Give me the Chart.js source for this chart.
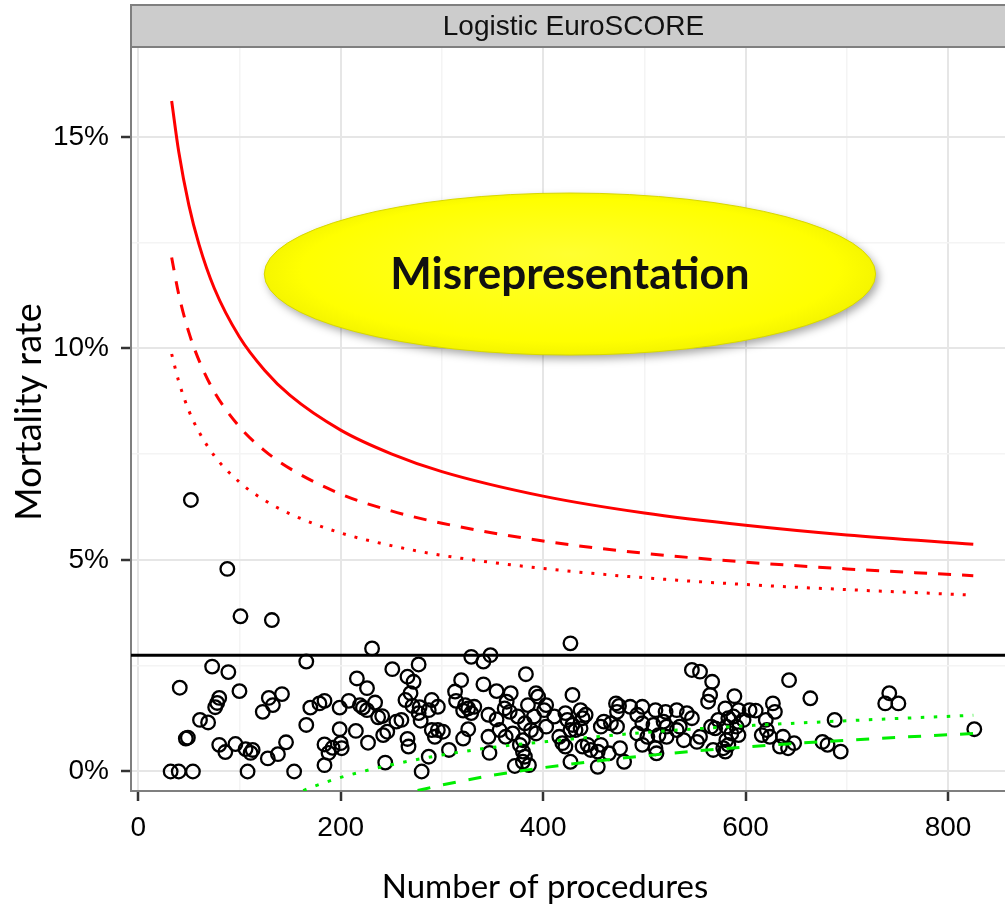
<!DOCTYPE html>
<html>
<head>
<meta charset="utf-8">
<script src="https://cdn.jsdelivr.net/npm/chart.js@4.4.1/dist/chart.umd.min.js"></script>
<style>
html, body { margin: 0; padding: 0; background: #fff; overflow: hidden; }
canvas { display: block; }
</style>
</head>
<body>
<canvas id="canvas" width="1025" height="912" style="width:1025px;height:912px"></canvas>
<script>
// hospitals: number of procedures and observed mortality (%)
var hospitalN = [52,88,101,132,73,89,41,100,80,78,76,129,142,133,123,61,69,47,49,80,86,96,106,113,111,128,138,146,32,40,54,108,
  231,166,251,277,216,226,266,272,269,264,170,179,184,199,208,219,222,234,226,237,241,255,260,246,242,166,199,215,227,184,192,200,201,188,266,267,271,278,277,279,184,244,154,280,
  329,341,348,383,319,313,314,341,354,368,364,393,395,403,401,296,290,287,323,326,332,329,321,346,354,362,367,375,385,382,391,388,290,296,301,293,326,321,346,357,363,370,380,393,307,347,377,380,382,386,372,380,403,416,419,422,411,422,287,427,
  547,555,429,437,442,439,424,429,432,437,427,472,475,473,486,498,493,511,521,532,542,547,460,467,473,457,498,509,519,522,532,535,493,503,514,522,539,552,555,439,444,447,454,465,457,476,498,511,512,427,454,480,
  643,664,567,565,563,589,580,593,588,583,573,566,570,598,591,581,586,593,581,583,578,580,568,604,610,627,629,620,621,616,624,637,634,642,648,676,681,694,688,742,738,751,826];
var hospitalRate = [6.42,4.79,3.67,3.58,2.48,2.35,1.98,1.90,1.74,1.62,1.52,1.74,1.83,1.57,1.41,1.22,1.16,0.78,0.80,0.63,0.46,0.65,0.53,0.51,0.44,0.31,0.41,0.69,0,0,0,0,
  2.91,2.60,2.42,2.53,2.20,1.97,2.24,2.12,1.85,1.69,1.51,1.61,1.67,1.51,1.67,1.57,1.51,1.63,1.45,1.28,1.31,1.18,1.22,0.94,0.86,1.10,1.00,0.96,0.68,0.64,0.56,0.67,0.55,0.44,0.77,0.59,1.55,1.52,1.38,1.20,0.15,0.21,0,0,
  2.71,2.60,2.75,2.30,2.16,1.89,1.67,2.06,1.90,1.85,1.65,1.85,1.77,1.57,1.45,1.53,1.69,1.45,1.57,1.49,1.53,1.38,1.44,1.34,1.23,1.49,1.41,1.30,1.57,1.14,1.30,0.98,0.98,0.98,0.94,0.82,1.00,0.78,0.82,0.98,0.82,0.90,0.74,0.90,0.51,0.44,0.63,0.47,0.35,0.15,0.13,0.23,1.06,0.82,0.67,0.59,1.30,1.38,0.35,3.03,
  2.40,2.36,1.81,1.45,1.34,1.26,1.22,1.10,0.98,1.02,0.98,1.61,1.55,1.41,1.53,1.53,1.34,1.45,1.41,1.45,1.38,1.26,1.18,1.14,1.06,1.06,1.14,1.10,1.18,1.06,0.98,1.06,0.90,0.82,0.86,0.82,0.74,0.70,0.82,0.59,0.63,0.51,0.47,0.43,0.63,0.55,0.63,0.55,0.43,0.23,0.11,0.23,
  2.16,1.73,2.12,1.81,1.65,1.78,1.49,1.45,1.30,1.26,1.22,1.06,1.02,1.22,1.06,1.06,0.90,0.86,0.74,0.63,0.55,0.47,0.51,1.45,1.44,1.61,1.41,1.22,0.98,0.86,0.82,0.82,0.59,0.55,0.67,0.70,0.63,0.47,1.22,1.85,1.61,1.61,1.00];

// overall rate and control limits
var overallRate = 2.75;
var limitN     = [33, 40, 50, 60, 75, 100, 125, 150, 200, 250, 300, 400, 500, 600, 700, 825];
var upperOuter = [15.85,14.65,13.39,12.46,11.43,10.27,9.48,8.89,8.07,7.51,7.09,6.51,6.11,5.82,5.59,5.37];
var upperMid   = [12.15,11.28,10.38,9.72,8.98,8.15,7.58,7.16,6.56,6.16,5.87,5.45,5.16,4.95,4.79,4.63];
var upperInner = [9.87,9.22,8.53,8.03,7.47,6.84,6.41,6.09,5.64,5.34,5.11,4.80,4.58,4.42,4.30,4.17];
var lowerInnerN = [163, 175, 200, 250, 300, 350, 400, 500, 600, 700, 825];
var lowerInner  = [-0.45,-0.34,-0.14,0.16,0.39,0.57,0.70,0.92,1.08,1.20,1.33];
var lowerMidN   = [276, 300, 350, 400, 500, 600, 700, 825];
var lowerMid    = [-0.45,-0.32,-0.09,0.09,0.37,0.58,0.74,0.90];

var xTicks = [0, 100, 200, 300, 400, 500, 600, 700, 800];
var yTicks = [0, 2.5, 5, 7.5, 10, 12.5, 15];
var panelTitle = 'Logistic EuroSCORE';
var xTitle = 'Number of procedures';
var yTitle = 'Mortality rate';
var bubbleText = 'Misrepresentation';

function pts(xs, ys) {
  return xs.map(function(v, i) { return {x: v, y: ys[i]}; });
}

var xMin = -7.17, xMax = 867.1;

var overlay = {
  id: 'overlay',
  beforeDraw: function(chart) {
    var ctx = chart.ctx, a = chart.chartArea;
    ctx.save();
    ctx.fillStyle = '#ffffff';
    ctx.fillRect(0, 0, chart.width, chart.height);
    // facet strip
    ctx.fillStyle = '#cccccc';
    ctx.fillRect(a.left, 5, a.right - a.left, a.top - 6);
    ctx.strokeStyle = '#7f7f7f';
    ctx.lineWidth = 2;
    ctx.strokeRect(a.left, 5, a.right - a.left, a.top - 6);
    ctx.fillStyle = '#111111';
    ctx.font = '28px "Liberation Sans", Arial, sans-serif';
    ctx.textAlign = 'center';
    ctx.textBaseline = 'middle';
    ctx.fillText(panelTitle, (a.left + a.right) / 2, 27);
    ctx.restore();
  },
  afterDatasetsDraw: function(chart) {
    var ctx = chart.ctx, xs = chart.scales.x, ys = chart.scales.y;
    var cx = xs.getPixelForValue(426.5), cy = ys.getPixelForValue(11.76);
    var rx = xs.getPixelForValue(426.5 + 302) - cx;
    var ry = cy - ys.getPixelForValue(11.76 + 1.915);
    ctx.save();
    ctx.shadowColor = 'rgba(0,0,0,0.35)';
    ctx.shadowBlur = 8;
    ctx.shadowOffsetX = 3;
    ctx.shadowOffsetY = 4;
    ctx.save();
    ctx.translate(cx, cy);
    ctx.scale(1, ry / rx);
    var g = ctx.createRadialGradient(0, -rx * 0.25, 0, 0, 0, rx * 1.1);
    g.addColorStop(0, '#ffff30');
    g.addColorStop(0.8, '#ffff00');
    g.addColorStop(1, '#eeee00');
    ctx.beginPath();
    ctx.arc(0, 0, rx, 0, Math.PI * 2);
    ctx.fillStyle = g;
    ctx.fill();
    ctx.restore();
    ctx.shadowColor = 'rgba(0,0,0,0)';
    ctx.beginPath();
    ctx.ellipse(cx, cy, rx, ry, 0, 0, Math.PI * 2);
    ctx.strokeStyle = '#d8d800';
    ctx.lineWidth = 1;
    ctx.stroke();
    ctx.fillStyle = '#111111';
    ctx.font = 'bold 44px Lato, "Open Sans", sans-serif';
    ctx.textAlign = 'center';
    ctx.textBaseline = 'middle';
    ctx.fillText(bubbleText, cx, cy + 1);
    ctx.restore();
  },
  afterDraw: function(chart) {
    var ctx = chart.ctx;
    ctx.save();
    ctx.fillStyle = '#000000';
    ctx.font = '33px Lato, "Open Sans", sans-serif';
    ctx.textAlign = 'center';
    ctx.textBaseline = 'middle';
    ctx.fillText(xTitle, 545, 887);
    ctx.font = '36px Lato, "Open Sans", sans-serif';
    ctx.translate(29, 412);
    ctx.rotate(-Math.PI / 2);
    ctx.fillText(yTitle, 0, 0);
    ctx.restore();
  }
};

function isMajor(c, step) {
  var v = c.tick ? c.tick.value : 0;
  return Math.abs(v % step) < 1e-6;
}
function gridColor(step) {
  return function(c) { return isMajor(c, step) ? '#e6e6e6' : '#f4f4f4'; };
}
function gridWidth(step) {
  return function(c) { return isMajor(c, step) ? 2 : 1.5; };
}
function tickColor(step) {
  return function(c) { return isMajor(c, step) ? '#333333' : 'rgba(0,0,0,0)'; };
}

var tickFont = { family: '"Liberation Sans", Arial, sans-serif', size: 28 };

var ctx = document.getElementById('canvas').getContext('2d');
window.myChart = new Chart(ctx, {
  type: 'scatter',
  data: {
    datasets: [
      { type: 'line', data: [{x: xMin, y: overallRate}, {x: xMax, y: overallRate}],
        borderColor: '#000000', borderWidth: 3, pointRadius: 0, fill: false },
      { type: 'line', data: pts(limitN, upperOuter), borderColor: '#ff0000', borderWidth: 3,
        pointRadius: 0, fill: false, cubicInterpolationMode: 'monotone' },
      { type: 'line', data: pts(limitN, upperMid), borderColor: '#ff0000', borderWidth: 3,
        borderDash: [13, 11], pointRadius: 0, fill: false, cubicInterpolationMode: 'monotone' },
      { type: 'line', data: pts(limitN, upperInner), borderColor: '#ff0000', borderWidth: 3,
        borderDash: [3, 9], pointRadius: 0, fill: false, cubicInterpolationMode: 'monotone' },
      { type: 'line', data: pts(lowerMidN, lowerMid), borderColor: '#00ee00', borderWidth: 3,
        borderDash: [13, 13], pointRadius: 0, fill: false, cubicInterpolationMode: 'monotone' },
      { type: 'line', data: pts(lowerInnerN, lowerInner), borderColor: '#00ee00', borderWidth: 3,
        borderDash: [3.5, 9.5], pointRadius: 0, fill: false, cubicInterpolationMode: 'monotone' },
      { type: 'scatter', data: pts(hospitalN, hospitalRate), pointRadius: 6.8, pointBorderWidth: 2.3,
        borderColor: '#000000', backgroundColor: 'rgba(0,0,0,0)', pointBackgroundColor: 'rgba(0,0,0,0)' }
    ]
  },
  options: {
    responsive: false,
    animation: false,
    devicePixelRatio: 1,
    layout: { padding: { top: 48, right: 4, left: 0, bottom: 0 } },
    plugins: { legend: { display: false }, tooltip: { enabled: false } },
    scales: {
      x: {
        type: 'linear', min: xMin, max: xMax,
        afterFit: function(s) { s.height = 121; },
        afterBuildTicks: function(s) { s.ticks = xTicks.map(function(v) { return {value: v}; }); },
        ticks: {
          color: '#000000', font: tickFont, padding: 10, maxRotation: 0, autoSkip: false,
          callback: function(v) { return v % 200 === 0 ? String(v) : ''; }
        },
        grid: { color: gridColor(200), lineWidth: gridWidth(200), tickColor: tickColor(200),
                tickLength: 10, tickWidth: 2.5 },
        border: { display: true, color: '#7f7f7f', width: 2 }
      },
      y: {
        type: 'linear', min: -0.461, max: 17.104,
        afterFit: function(s) { s.width = 131; },
        afterBuildTicks: function(s) { s.ticks = yTicks.map(function(v) { return {value: v}; }); },
        ticks: {
          color: '#000000', font: tickFont, padding: 12, autoSkip: false,
          callback: function(v) { return v % 5 === 0 ? v + '%' : ''; }
        },
        grid: { color: gridColor(5), lineWidth: gridWidth(5), tickColor: tickColor(5),
                tickLength: 10, tickWidth: 2.5 },
        border: { display: true, color: '#7f7f7f', width: 2 }
      }
    }
  },
  plugins: [overlay]
});
</script>
</body>
</html>
